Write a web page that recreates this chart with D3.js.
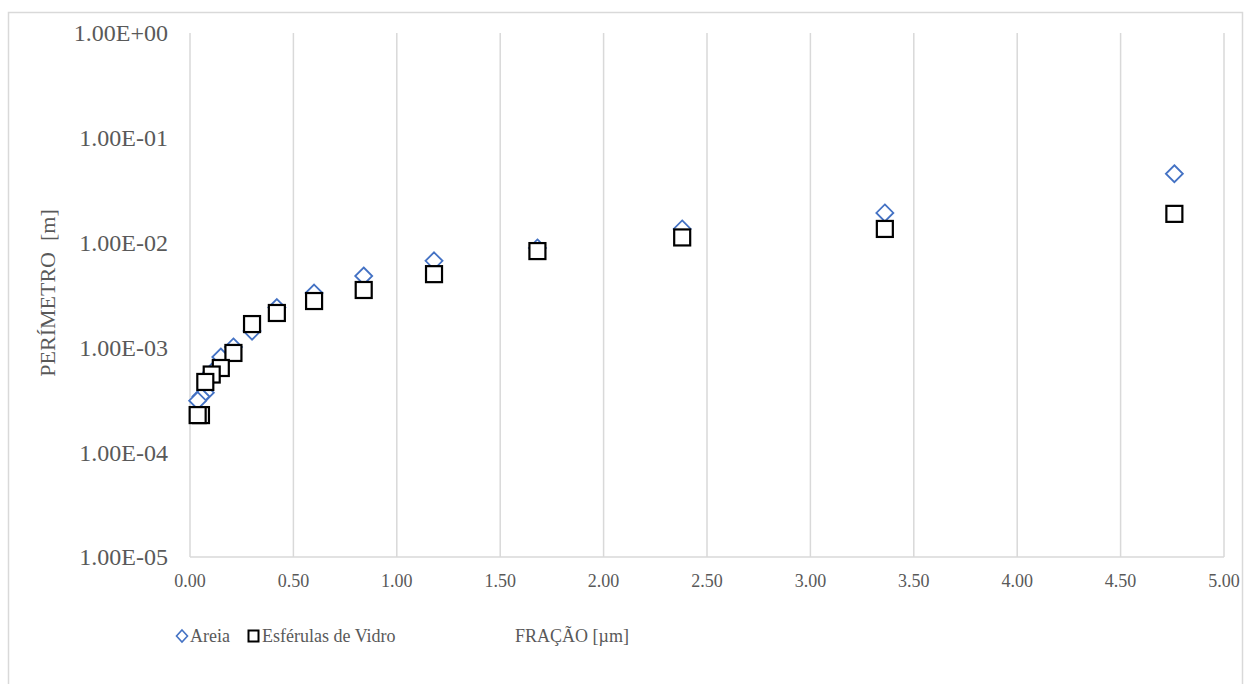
<!DOCTYPE html>
<html lang="pt">
<head>
<meta charset="UTF-8">
<title>Perímetro x Fração</title>
<style>
    body { margin: 0; background: #fff; }
    text { font-family: "Liberation Serif", "Times New Roman", serif; fill: #595959; }
    .grid line { stroke: #d9d9d9; stroke-width: 1.5; }
</style>
</head>
<body>
<svg width="1244" height="684"></svg>
<script src="https://cdn.jsdelivr.net/npm/d3@7"></script>
<script>
// fractions (x) - sieve openings
var fracoes = [4.76, 3.36, 2.38, 1.68, 1.18, 0.84, 0.60, 0.42, 0.30, 0.21, 0.149, 0.105, 0.074, 0.053, 0.037];
// perimeter values [m]
var areia = [0.0454, 0.0192, 0.0135, 0.0089, 0.0067, 0.0048, 0.0033, 0.0024, 0.00143, 0.00101, 0.00081, 0.00058, 0.00037, 0.00034, 0.00031];
var esferulas = [0.0188, 0.0135, 0.0112, 0.0083, 0.0050, 0.00353, 0.00277, 0.00213, 0.00167, 0.000885, 0.000636, 0.000551, 0.000468, 0.000226, 0.000226];
var xTicks = [0, 0.5, 1, 1.5, 2, 2.5, 3, 3.5, 4, 4.5, 5];
var yTicks = [1e-5, 1e-4, 1e-3, 1e-2, 1e-1, 1];

var svg = d3.select("svg");

// outer chart frame
svg.append("rect")
    .attr("x", 8.5).attr("y", 12.5)
    .attr("width", 1234).attr("height", 680)
    .attr("fill", "none").attr("stroke", "#d9d9d9").attr("stroke-width", 1.5);

var x = d3.scaleLinear().domain([0, 5]).range([190, 1224]);
var y = d3.scaleLog().domain([1e-5, 1]).range([557, 33]);

// vertical gridlines
svg.append("g").attr("class", "grid")
    .selectAll("line").data(xTicks).enter().append("line")
    .attr("x1", function(d) { return x(d); })
    .attr("x2", function(d) { return x(d); })
    .attr("y1", y(1)).attr("y2", y(1e-5));

// bottom axis line
svg.append("line")
    .attr("x1", x(0)).attr("x2", x(5))
    .attr("y1", y(1e-5)).attr("y2", y(1e-5))
    .attr("stroke", "#d9d9d9").attr("stroke-width", 1.5);

// x tick labels
svg.append("g").selectAll("text").data(xTicks).enter().append("text")
    .attr("x", function(d) { return x(d); })
    .attr("y", 581)
    .attr("dy", "0.35em")
    .attr("text-anchor", "middle")
    .style("font-size", "18px")
    .text(function(d) { return d.toFixed(2); });

// y tick labels, excel style
var fmtE = function(d) {
    var e = Math.round(Math.log10(d));
    var s = e < 0 ? "-" : "+";
    var a = Math.abs(e);
    return "1.00E" + s + (a < 10 ? "0" + a : a);
};
svg.append("g").selectAll("text").data(yTicks).enter().append("text")
    .attr("x", 168)
    .attr("y", function(d) { return y(d); })
    .attr("dy", "0.35em")
    .attr("text-anchor", "end")
    .style("font-size", "24px")
    .text(fmtE);

// axis titles
svg.append("text")
    .attr("transform", "translate(47,293) rotate(-90)")
    .attr("dy", "0.35em")
    .attr("text-anchor", "middle")
    .style("font-size", "22px")
    .style("white-space", "pre")
    .text("PERÍMETRO  [m]");

svg.append("text")
    .attr("x", 572).attr("y", 636)
    .attr("dy", "0.35em")
    .attr("text-anchor", "middle")
    .style("font-size", "18px")
    .text("FRAÇÃO [µm]");

// series: areia (diamonds) first, esférulas (squares) on top
var diamond = "M0,-8.5L8.5,0L0,8.5L-8.5,0Z";
svg.append("g").selectAll("path").data(fracoes).enter().append("path")
    .attr("d", diamond)
    .attr("transform", function(d, i) { return "translate(" + x(d) + "," + y(areia[i]) + ")"; })
    .attr("fill", "#fff")
    .attr("stroke", "#4472c4")
    .attr("stroke-width", 1.8);

svg.append("g").selectAll("rect").data(fracoes).enter().append("rect")
    .attr("x", function(d) { return x(d) - 8; })
    .attr("y", function(d, i) { return y(esferulas[i]) - 8; })
    .attr("width", 16).attr("height", 16)
    .attr("fill", "#fff")
    .attr("stroke", "#000")
    .attr("stroke-width", 2.2);

// legend
var lg = svg.append("g");
lg.append("path")
    .attr("d", "M0,-6L5.5,0L0,6L-5.5,0Z")
    .attr("transform", "translate(182,636)")
    .attr("fill", "#fff").attr("stroke", "#4472c4").attr("stroke-width", 1.6);
lg.append("text").attr("x", 190).attr("y", 636).attr("dy", "0.35em")
    .style("font-size", "18px").text("Areia");
lg.append("rect")
    .attr("x", 248.5).attr("y", 630.5).attr("width", 10).attr("height", 11)
    .attr("fill", "#fff").attr("stroke", "#000").attr("stroke-width", 2);
lg.append("text").attr("x", 262).attr("y", 636).attr("dy", "0.35em")
    .style("font-size", "18px").text("Esférulas de Vidro");
</script>
</body>
</html>
